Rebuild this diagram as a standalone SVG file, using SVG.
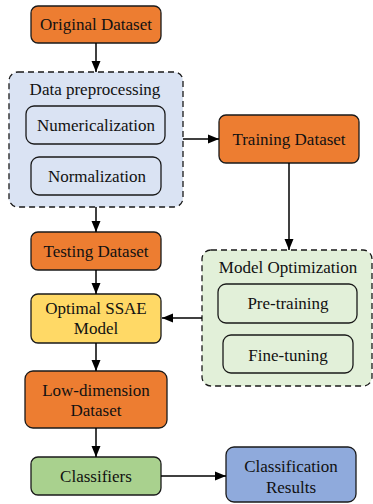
<svg xmlns="http://www.w3.org/2000/svg" width="373" height="504" viewBox="0 0 373 504" font-family="'Liberation Serif', 'DejaVu Serif', serif">
  <style>
    text { font-family: 'Liberation Serif', 'DejaVu Serif', serif; font-size: 17px; fill: #111; text-anchor: middle; }
    .box { stroke: #1a1a1a; stroke-width: 1.3; }
    .orange { fill: #ED7D31; }
    .yellow { fill: #FFD966; }
    .green { fill: #A9D18E; }
    .blue { fill: #8FAADC; }
    .group { stroke: #1a1a1a; stroke-width: 1.3; stroke-dasharray: 6 4; }
    .pre { fill: #DAE3F3; }
    .opt { fill: #E2F0D9; }
    .inner { stroke: #1a1a1a; stroke-width: 1.3; }
    .edge { fill: none; stroke: #000; stroke-width: 1.5; marker-end: url(#arrow); }
  </style>
  <defs>
    <marker id="arrow" markerUnits="userSpaceOnUse" markerWidth="12" markerHeight="12" viewBox="0 0 12 12" refX="11" refY="6" orient="auto">
      <path d="M0,1.5 L11,6 L0,10.5 Z" fill="#000"/>
    </marker>
  </defs>

  <g id="original-dataset">
    <rect class="box orange" x="31" y="6" width="130" height="37" rx="7"/>
    <text x="96" y="30">Original Dataset</text>
  </g>

  <g id="data-preprocessing">
    <rect class="group pre" x="9" y="72" width="174" height="135" rx="9"/>
    <text x="95" y="95">Data preprocessing</text>
    <g id="numericalization">
      <rect class="inner pre" x="26" y="106" width="139" height="38" rx="8"/>
      <text x="96" y="131">Numericalization</text>
    </g>
    <g id="normalization">
      <rect class="inner pre" x="31" y="157" width="130" height="38" rx="8"/>
      <text x="97" y="182">Normalization</text>
    </g>
  </g>

  <g id="training-dataset">
    <rect class="box orange" x="219" y="115" width="140" height="48" rx="7"/>
    <text x="289" y="145">Training Dataset</text>
  </g>

  <g id="model-optimization">
    <rect class="group opt" x="202" y="250" width="170" height="136" rx="9"/>
    <text x="288" y="273">Model Optimization</text>
    <g id="pre-training">
      <rect class="inner opt" x="218" y="284" width="139" height="39" rx="8"/>
      <text x="288" y="309">Pre-training</text>
    </g>
    <g id="fine-tuning">
      <rect class="inner opt" x="223" y="335" width="130" height="38" rx="8"/>
      <text x="288" y="361">Fine-tuning</text>
    </g>
  </g>

  <g id="testing-dataset">
    <rect class="box orange" x="31" y="232" width="130" height="38" rx="7"/>
    <text x="96" y="257">Testing Dataset</text>
  </g>

  <g id="optimal-ssae-model">
    <rect class="box yellow" x="31" y="294" width="130" height="49" rx="7"/>
    <text x="96" y="314">Optimal SSAE</text>
    <text x="96" y="334">Model</text>
  </g>

  <g id="low-dimension-dataset">
    <rect class="box orange" x="25" y="371" width="142" height="57" rx="8"/>
    <text x="96" y="396">Low-dimension</text>
    <text x="96" y="416">Dataset</text>
  </g>

  <g id="classifiers">
    <rect class="box green" x="31" y="457" width="130" height="38" rx="7"/>
    <text x="96" y="482">Classifiers</text>
  </g>

  <g id="classification-results">
    <rect class="box blue" x="226" y="447" width="130" height="55" rx="8"/>
    <text x="291" y="472">Classification</text>
    <text x="291" y="493">Results</text>
  </g>

  <g id="connectors">
    <line class="edge" x1="96" y1="43" x2="96" y2="72"/>
    <line class="edge" x1="183" y1="139" x2="219" y2="139"/>
    <line class="edge" x1="289" y1="163" x2="289" y2="250"/>
    <line class="edge" x1="96" y1="207" x2="96" y2="232"/>
    <line class="edge" x1="96" y1="270" x2="96" y2="294"/>
    <line class="edge" x1="202" y1="318" x2="162" y2="318"/>
    <line class="edge" x1="96" y1="343" x2="96" y2="371"/>
    <line class="edge" x1="96" y1="428" x2="96" y2="457"/>
    <line class="edge" x1="161" y1="476" x2="226" y2="476"/>
  </g>
</svg>
